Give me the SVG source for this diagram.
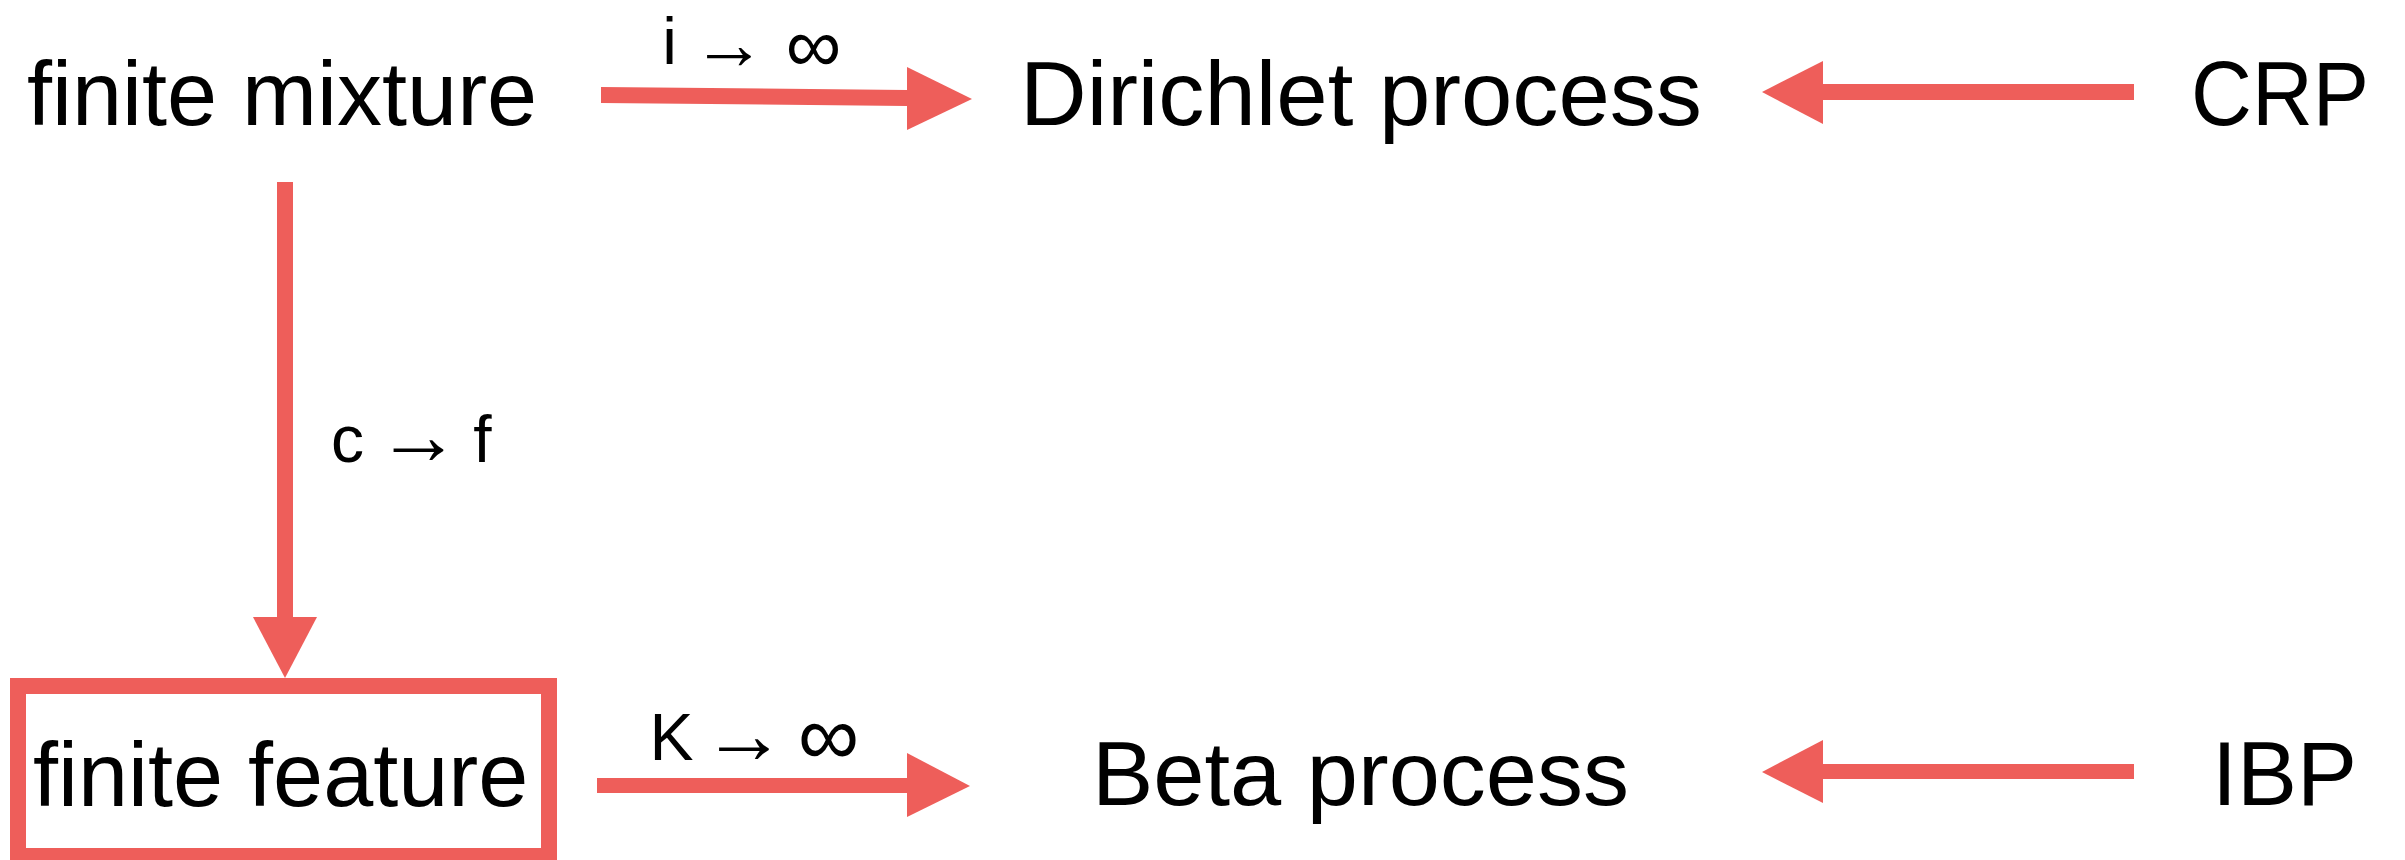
<svg xmlns="http://www.w3.org/2000/svg" width="2405" height="860" viewBox="0 0 2405 860">
<style>
.node{font-family:"Liberation Sans",Arial,Helvetica,sans-serif;font-size:90px;fill:#000}
.lbl{font-family:"Liberation Sans",Arial,Helvetica,sans-serif;font-size:66px;fill:#000}
.lbl tspan{text-anchor:middle}
.lbl .ar{font-size:84px}
.lbl .inf{font-size:86px}
.lbl .ar2{font-size:74px}
.lbl .inf2{font-size:78px}
.shaft{fill:#EE5E5A;stroke:none}
.head{fill:#EE5E5A;stroke:none}
.box{fill:none;stroke:#EE5E5A;stroke-width:16}
</style>
<rect width="2405" height="860" fill="#fff"/>
<g id="connectors">
  <g id="e-mixture-dp">
    <polygon class="shaft" points="601,87 907,90 907,106 601,103"/>
    <polygon class="head" points="907,67 972,99 907,130"/>
    <text class="lbl" y="64"><tspan x="669.5">i</tspan><tspan class="ar2" x="729" y="69">→</tspan><tspan class="inf2" x="813.5" y="72">∞</tspan></text>
  </g>
  <g id="e-crp-dp">
    <rect class="shaft" x="1823" y="84" width="311" height="16"/>
    <polygon class="head" points="1823,61 1762,92 1823,124"/>
  </g>
  <g id="e-mixture-feature">
    <rect class="shaft" x="277" y="182" width="16" height="436"/>
    <polygon class="head" points="253,617 317,617 285,678"/>
    <text class="lbl" y="462"><tspan x="347.5">c</tspan><tspan class="ar" x="418.5" y="464">→</tspan><tspan x="482.5" y="462">f</tspan></text>
  </g>
  <g id="e-feature-beta">
    <rect class="shaft" x="597" y="778" width="310" height="15"/>
    <polygon class="head" points="907,753 970,786 907,817"/>
    <text class="lbl" y="760"><tspan x="671.5">K</tspan><tspan class="ar" x="744" y="763">→</tspan><tspan class="inf" x="828.5" y="765">∞</tspan></text>
  </g>
  <g id="e-ibp-beta">
    <rect class="shaft" x="1823" y="764" width="311" height="15"/>
    <polygon class="head" points="1823,740 1762,772 1823,803"/>
  </g>
</g>
<g id="n-finite-mixture"><text class="node" x="27" y="125">finite mixture</text></g>
<g id="n-dirichlet"><text class="node" x="1020" y="125" textLength="682" lengthAdjust="spacingAndGlyphs">Dirichlet process</text></g>
<g id="n-crp"><text class="node" x="2191" y="125" textLength="178" lengthAdjust="spacingAndGlyphs">CRP</text></g>
<g id="n-finite-feature">
  <rect class="box" x="18" y="686" width="531" height="170"/>
  <text class="node" x="33" y="806">finite feature</text>
</g>
<g id="n-beta"><text class="node" x="1092" y="805" textLength="537" lengthAdjust="spacingAndGlyphs">Beta process</text></g>
<g id="n-ibp"><text class="node" x="2212" y="805">IBP</text></g>
</svg>
